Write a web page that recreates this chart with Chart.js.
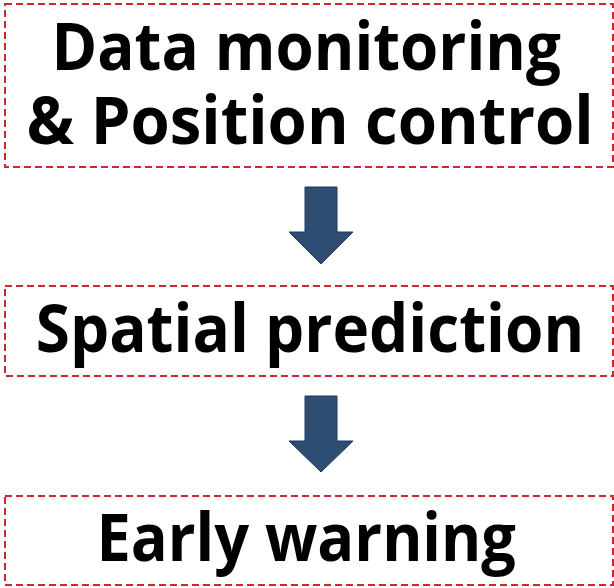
<!DOCTYPE html>
<html>
<head>
<meta charset="utf-8">
<script src="https://cdn.jsdelivr.net/npm/chart.js@4/dist/chart.umd.min.js"></script>
<style>
html,body{margin:0;padding:0;background:#fff;overflow:hidden}
canvas{display:block}
</style>
</head>
<body>
<canvas id="c" width="614" height="588"></canvas>
<script>
// ---- content ----
const steps = ['Data monitoring\n& Position control', 'Spatial prediction', 'Early warning'];
const arrowsBetween = [[0, 1], [1, 2]];

// ---- layout (pixel space of the 614x588 figure) ----
const layout = {
  boxLeft: 5, boxRight: 613,
  boxTop: [4, 286, 496], boxBottom: [167, 376, 585],
  baselines: [[70, 144], [352], [561]],
  inkWidths: [[504, 561], [541], [414]],
  capHeight: 48,
  arrow: { shaftL: 305, shaftR: 337, headL: 289, headR: 353, tops: [187, 396], necks: [232, 441], tips: [264, 472] }
};
const style = {
  border: '#D0262D', dash: [7, 4], borderWidth: 2,
  arrowFill: '#2E4D73', arrowStroke: '#1E3A5C',
  font: '"Open Sans", "Noto Sans", sans-serif', textColor: '#000'
};

const flowPlugin = {
  id: 'flow',
  afterDraw(chart) {
    const ctx = chart.ctx, X = chart.scales.x, Y = chart.scales.y;
    const px = v => X.getPixelForValue(v), py = v => Y.getPixelForValue(v);
    // boxes
    steps.forEach((s, i) => {
      ctx.save();
      ctx.strokeStyle = style.border;
      ctx.lineWidth = style.borderWidth;
      ctx.setLineDash(style.dash);
      const x0 = px(layout.boxLeft), x1 = px(layout.boxRight);
      const y0 = py(layout.boxTop[i]), y1 = py(layout.boxBottom[i]);
      ctx.strokeRect(x0, y0, x1 - x0, y1 - y0);
      ctx.restore();
      // text
      const lines = s.split('\n');
      const cx = (px(layout.boxLeft) + px(layout.boxRight)) / 2;
      lines.forEach((ln, j) => {
        ctx.save();
        const fs = Math.round(layout.capHeight / 0.714);
        ctx.font = 'bold ' + fs + 'px ' + style.font;
        const m = ctx.measureText(ln);
        const ink = m.actualBoundingBoxLeft + m.actualBoundingBoxRight;
        const sx = layout.inkWidths[i][j] / ink;
        ctx.translate(cx, py(layout.baselines[i][j]));
        ctx.scale(sx, 1);
        ctx.fillStyle = style.textColor;
        ctx.textBaseline = 'alphabetic';
        const left = -ink / 2 + m.actualBoundingBoxLeft;
        ctx.fillText(ln, left, 0);
        ctx.restore();
      });
    });
    // arrows
    const a = layout.arrow;
    arrowsBetween.forEach((pair, k) => {
      ctx.save();
      ctx.beginPath();
      ctx.moveTo(px(a.shaftL), py(a.tops[k]));
      ctx.lineTo(px(a.shaftR), py(a.tops[k]));
      ctx.lineTo(px(a.shaftR), py(a.necks[k]));
      ctx.lineTo(px(a.headR), py(a.necks[k]));
      ctx.lineTo((px(a.headL) + px(a.headR)) / 2, py(a.tips[k]));
      ctx.lineTo(px(a.headL), py(a.necks[k]));
      ctx.lineTo(px(a.shaftL), py(a.necks[k]));
      ctx.closePath();
      ctx.fillStyle = style.arrowFill;
      ctx.fill();
      ctx.lineWidth = 1;
      ctx.strokeStyle = style.arrowStroke;
      ctx.stroke();
      ctx.restore();
    });
  }
};

new Chart(document.getElementById('c'), {
  type: 'scatter',
  data: { datasets: [{ data: [], pointRadius: 0 }] },
  options: {
    responsive: false,
    animation: false,
    events: [],
    layout: { padding: 0 },
    plugins: { legend: { display: false }, tooltip: { enabled: false }, title: { display: false } },
    scales: {
      x: { type: 'linear', min: 0, max: 614, display: false },
      y: { type: 'linear', min: 0, max: 588, reverse: true, display: false }
    }
  },
  plugins: [flowPlugin]
});
</script>
</body>
</html>
